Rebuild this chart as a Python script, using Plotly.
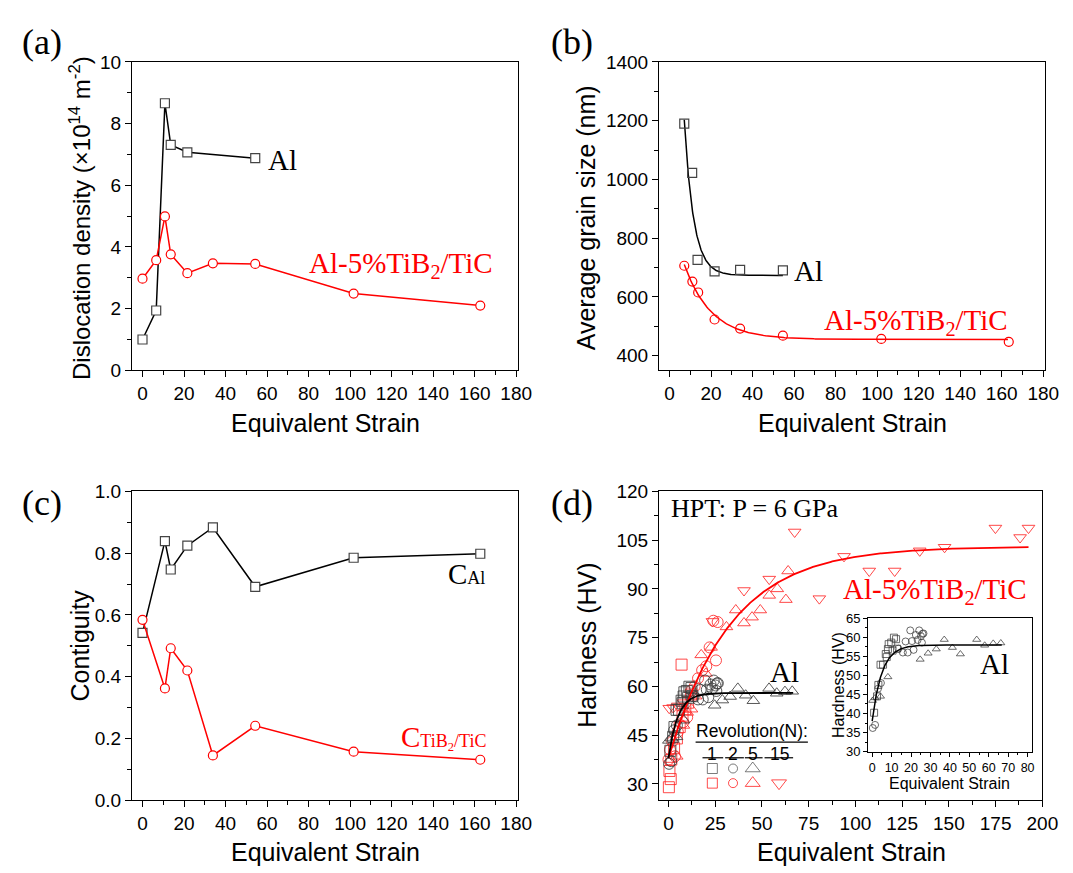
import numpy as np
import plotly.graph_objects as go

W, H = 1073, 873

# ---------------- data ----------------
# (a) dislocation density (x10^14 m^-2)
disl_al_strain = [0, 6.6, 10.8, 13.6, 21.6, 54.3]
disl_al = [1.0, 1.94, 8.66, 7.31, 7.07, 6.88]
disl_comp_strain = [0, 6.6, 10.8, 13.6, 21.6, 33.9, 54.3, 101.7, 162.7]
disl_comp = [2.97, 3.57, 4.99, 3.76, 3.15, 3.47, 3.45, 2.49, 2.10]

# (b) average grain size (nm)
grain_al_strain = [7.1, 10.9, 13.5, 21.7, 34.0, 54.6]
grain_al = [1190, 1022, 726, 687, 692, 690]
grain_comp_strain = [7.1, 11.0, 13.8, 21.7, 34.0, 54.6, 102.0, 163.4]
grain_comp = [706, 652, 615, 523, 492, 468, 457, 447]
# exponential-decay fits: y = base + amp*exp(-(x-x0)/tau)
fit_b_al = dict(base=673, amp=530, x0=7.1, tau=4.48, xmax=54.6)
fit_b_comp = dict(base=455, amp=255, x0=7.1, tau=13.0, xmax=163.0)

# (c) contiguity
contig_strain = [0, 10.8, 13.6, 21.6, 33.9, 54.3, 101.7, 162.7]
contig_al = [0.542, 0.839, 0.747, 0.824, 0.883, 0.691, 0.785, 0.798]
contig_comp = [0.584, 0.362, 0.492, 0.420, 0.145, 0.241, 0.157, 0.131]

# (d) hardness (HV) - Al, by number of revolutions
al_n1_strain = [1.0, 2.5, 3.2, 4.3, 5.6, 7.0, 7.5, 8.1, 8.5, 9.8, 11.2, 12.3, 12.8, 10.5]
al_n1_hv = [40.2, 44.5, 47.5, 52.8, 52.8, 55.6, 54.8, 56.9, 58.2, 58.6, 59.9, 59.5, 57.0, 56.5]
al_n2_strain = [0.3, 1.5, 3.0, 4.5, 13.5, 15.8, 17.2, 18.3, 19.6, 20.5, 21.3, 22.5, 23.4, 24.2, 25.1, 25.9, 26.4, 25.6]
al_n2_hv = [36.2, 37.0, 46.5, 48.0, 57.0, 56.0, 58.9, 56.0, 61.8, 59.0, 56.7, 60.6, 59.3, 61.8, 60.3, 60.9, 61.0, 58.6]
al_n5_strain = [0.2, 1.5, 4.3, 8.1, 24.7, 28.8, 33.0, 37.1, 41.3, 45.4, 53.8, 57.9, 62.3, 66.2]
al_n5_hv = [43.4, 44.1, 44.5, 49.6, 54.2, 55.8, 56.9, 59.4, 57.3, 55.6, 59.4, 57.9, 58.4, 58.5]

# (d) hardness (HV) - Al-5%TiB2/TiC
cm_n1_strain = [0.2, 1.2, 0.5, 1.5, 3.0, 4.5, 6.0, 7.0, 7.5, 9.0, 10.5, 12.0]
cm_n1_hv = [29.0, 31.5, 34.0, 37.5, 41.0, 44.0, 47.5, 66.7, 51.0, 53.0, 55.0, 57.5]
cm_n2_strain = [0.0, 0.8, 2.0, 3.5, 5.0, 7.9, 10.0, 12.3, 14.0, 15.8, 18.0, 20.2, 22.0, 25.4, 26.3, 24.0]
cm_n2_hv = [37.5, 40.5, 43.0, 38.5, 46.0, 49.0, 50.5, 58.8, 60.0, 62.5, 65.0, 66.2, 72.0, 68.0, 79.8, 80.2]
cm_n5_strain = [1.0, 4.4, 8.0, 10.0, 12.3, 14.5, 17.5, 20.0, 22.8, 31.0, 36.0, 40.4, 44.7, 49.1, 53.9, 58.2, 62.8, 64.0]
cm_n5_hv = [37.5, 38.5, 48.0, 52.0, 53.0, 57.0, 69.7, 64.0, 72.0, 78.3, 83.5, 79.5, 81.3, 83.5, 88.0, 90.0, 86.7, 95.5]
cm_n15_strain = [0.4, 2.5, 5.0, 8.0, 23.5, 40.4, 53.9, 67.5, 80.7, 93.9, 107.4, 121.0, 134.4, 147.7, 174.9, 188.1, 192.6]
cm_n15_hv = [53.3, 53.5, 54.0, 55.0, 80.0, 89.5, 93.0, 107.5, 87.0, 100.0, 95.5, 95.5, 101.7, 102.8, 108.7, 105.8, 108.7]
# saturation fits: y = sat - amp*exp(-x/tau)
fit_d_al = dict(sat=58.0, amp=20.0, tau=5.0, xmax=66.7)
fit_d_comp = dict(sat=103.0, amp=65.0, tau=33.0, xmax=192.6)

revolutions = ["1", "2", "5", "15"]

# ---------------- helpers ----------------
BLACK_MK = "#444444"
RED = "#ff0000"
SANS = "Liberation Sans"
SERIF = "Liberation Serif"


def px(x):
    return x / W


def py(y):
    return 1 - y / H


def axis(rng, dtick, minor_dtick, dom, anchor, fs=19, tickformat=None, ticklen=6):
    d = dict(range=rng, dtick=dtick, domain=dom, anchor=anchor,
             showline=True, linecolor="black", linewidth=1.3, mirror=True,
             ticks="outside", ticklen=ticklen, tickwidth=1.2, tickcolor="black",
             showgrid=False, zeroline=False,
             tickfont=dict(family=SANS, size=fs, color="black"),
             minor=dict(dtick=minor_dtick, ticks="outside", ticklen=ticklen * 0.6,
                        tickwidth=1.2, tickcolor="black", showgrid=False))
    if tickformat:
        d["tickformat"] = tickformat
    return d


def decay(p):
    x = np.linspace(p["x0"], p["xmax"], 300)
    return x, p["base"] + p["amp"] * np.exp(-(x - p["x0"]) / p["tau"])


def sat(p):
    x = np.linspace(0, p["xmax"], 300)
    return x, p["sat"] - p["amp"] * np.exp(-x / p["tau"])


fig = go.Figure()

# (a)
fig.add_trace(go.Scatter(x=disl_al_strain, y=disl_al, mode="lines+markers", xaxis="x", yaxis="y",
                         line=dict(color="black", width=1.5),
                         marker=dict(symbol="square", size=9, color="white", line=dict(color=BLACK_MK, width=1.2))))
fig.add_trace(go.Scatter(x=disl_comp_strain, y=disl_comp, mode="lines+markers", xaxis="x", yaxis="y",
                         line=dict(color=RED, width=1.5),
                         marker=dict(symbol="circle", size=9, color="white", line=dict(color=RED, width=1.2))))

# (b)
xb, yb = decay(fit_b_al)
fig.add_trace(go.Scatter(x=xb, y=yb, mode="lines", xaxis="x2", yaxis="y2", line=dict(color="black", width=1.5)))
xb2, yb2 = decay(fit_b_comp)
fig.add_trace(go.Scatter(x=xb2, y=yb2, mode="lines", xaxis="x2", yaxis="y2", line=dict(color=RED, width=1.5)))
fig.add_trace(go.Scatter(x=grain_al_strain, y=grain_al, mode="markers", xaxis="x2", yaxis="y2",
                         marker=dict(symbol="square-open", size=9, color=BLACK_MK, line=dict(width=1.2))))
fig.add_trace(go.Scatter(x=grain_comp_strain, y=grain_comp, mode="markers", xaxis="x2", yaxis="y2",
                         marker=dict(symbol="circle-open", size=9, color=RED, line=dict(width=1.2))))

# (c)
fig.add_trace(go.Scatter(x=contig_strain, y=contig_al, mode="lines+markers", xaxis="x3", yaxis="y3",
                         line=dict(color="black", width=1.5),
                         marker=dict(symbol="square", size=9, color="white", line=dict(color=BLACK_MK, width=1.2))))
fig.add_trace(go.Scatter(x=contig_strain, y=contig_comp, mode="lines+markers", xaxis="x3", yaxis="y3",
                         line=dict(color=RED, width=1.5),
                         marker=dict(symbol="circle", size=9, color="white", line=dict(color=RED, width=1.2))))

# (d) main
al_sets = [(al_n1_strain, al_n1_hv, "square-open"), (al_n2_strain, al_n2_hv, "circle-open"),
           (al_n5_strain, al_n5_hv, "triangle-up-open")]
cm_sets = [(cm_n1_strain, cm_n1_hv, "square-open"), (cm_n2_strain, cm_n2_hv, "circle-open"),
           (cm_n5_strain, cm_n5_hv, "triangle-up-open"), (cm_n15_strain, cm_n15_hv, "triangle-down-open")]
for xs, ys, sym in cm_sets:
    fig.add_trace(go.Scatter(x=xs, y=ys, mode="markers", xaxis="x4", yaxis="y4",
                             marker=dict(symbol=sym, size=11, color="rgba(255,40,40,0.85)", line=dict(width=1))))
for xs, ys, sym in al_sets:
    fig.add_trace(go.Scatter(x=xs, y=ys, mode="markers", xaxis="x4", yaxis="y4",
                             marker=dict(symbol=sym, size=11, color="rgba(60,60,60,0.85)", line=dict(width=1))))
xd, yd = sat(fit_d_comp)
fig.add_trace(go.Scatter(x=xd, y=yd, mode="lines", xaxis="x4", yaxis="y4", line=dict(color=RED, width=1.8)))
xd2, yd2 = sat(fit_d_al)
fig.add_trace(go.Scatter(x=xd2, y=yd2, mode="lines", xaxis="x4", yaxis="y4", line=dict(color="black", width=1.8)))

# (d) inset
for xs, ys, sym in al_sets:
    fig.add_trace(go.Scatter(x=xs, y=ys, mode="markers", xaxis="x5", yaxis="y5",
                             marker=dict(symbol=sym, size=7, color="rgba(60,60,60,0.85)", line=dict(width=0.9))))
fig.add_trace(go.Scatter(x=xd2, y=yd2, mode="lines", xaxis="x5", yaxis="y5", line=dict(color="black", width=1.5)))

# (d) legend keys (overlay pixel axis)
key_x = [715, 736, 756, 782.7]
key_syms = ["square-open", "circle-open", "triangle-up-open", "triangle-down-open"]
key_sizes = [10, 9, 13, 13]
fig.add_trace(go.Scatter(x=key_x[:3], y=[769] * 3, mode="markers", xaxis="x6", yaxis="y6",
                         marker=dict(symbol=key_syms[:3], size=key_sizes[:3], color="#444444", line=dict(width=1))))
fig.add_trace(go.Scatter(x=key_x, y=[784] * 4, mode="markers", xaxis="x6", yaxis="y6",
                         marker=dict(symbol=key_syms, size=key_sizes, color=RED, line=dict(width=1))))

# ---------------- layout ----------------
dom_ax = [px(126), px(518)]
dom_bx = [px(661), px(1053)]
dom_dx = [px(661), px(1050)]
dom_top = [py(361), py(45)]
dom_bot = [py(801.5), py(485)]

layout = dict(
    width=W, height=H, margin=dict(l=0, r=0, t=0, b=0),
    paper_bgcolor="white", plot_bgcolor="rgba(0,0,0,0)", showlegend=False,
    xaxis=axis([-5, 181], 20, 10, dom_ax, "y"),
    yaxis=axis([0, 10], 2, 1, dom_top, "x"),
    xaxis2=axis([-5, 181], 20, 10, dom_bx, "y2"),
    yaxis2=axis([350, 1400], 200, 100, dom_top, "x2"),
    xaxis3=axis([-5, 181], 20, 10, dom_ax, "y3"),
    yaxis3=axis([0, 1.0], 0.2, 0.1, dom_bot, "x3", tickformat=".1f"),
    xaxis4=axis([-5, 200], 25, 12.5, dom_dx, "y4"),
    yaxis4=axis([25, 120], 15, 7.5, dom_bot, "x4"),
    xaxis5=axis([-2, 82], 10, 5, [px(873.3), px(1039)], "y5", fs=12.5, ticklen=4),
    yaxis5=axis([30, 65], 5, 2.5, [py(751.7), py(615)], "x5", fs=13, ticklen=4),
    xaxis6=dict(range=[0, W], domain=[0, 1], anchor="y6", visible=False, fixedrange=True),
    yaxis6=dict(range=[H, 0], domain=[0, 1], anchor="x6", visible=False, fixedrange=True),
)
fig.update_layout(**layout)

ann = []


def text(x, y, s, size, color="black", family=SERIF, angle=0, xanchor="center"):
    ann.append(dict(x=px(x), y=py(y), xref="paper", yref="paper", text=s, showarrow=False,
                    font=dict(family=family, size=size, color=color), textangle=angle,
                    xanchor=xanchor, yanchor="middle"))


# panel letters
text(35, 25, "(a)", 36)
text(573, 25, "(b)", 36)
text(35, 497, "(c)", 36)
text(573, 497, "(d)", 36)

# axis titles
text(322, 415, "Equivalent Strain", 25, family=SANS)
text(857, 415, "Equivalent Strain", 25, family=SANS)
text(322, 855, "Equivalent Strain", 25, family=SANS)
text(856, 855, "Equivalent Strain", 25, family=SANS)
text(73, 205, "Dislocation density (×10<sup>14</sup> m<sup>-2</sup>)", 24, family=SANS, angle=-90)
text(587, 205, "Average grain size (nm)", 25, family=SANS, angle=-90)
text(73, 643, "Contiguity", 25, family=SANS, angle=-90)
text(587, 643, "Hardness (HV)", 25, family=SANS, angle=-90)
text(843, 683, "Hardness (HV)", 16, family=SANS, angle=-90)
text(956, 784, "Equivalent Strain", 16, family=SANS)

# series labels
text(262, 145, "Al", 29, xanchor="left")
text(304, 253, "Al-5%TiB<sub>2</sub>/TiC", 29, color=RED, xanchor="left")
text(796, 259, "Al", 29, xanchor="left")
text(826, 312, "Al-5%TiB<sub>2</sub>/TiC", 29, color=RED, xanchor="left")
text(445, 570, "C<span style='font-size:18px'>Al</span>", 29, xanchor="left")
text(397, 737, "C<span style='font-size:18px'>TiB<sub>2</sub>/TiC</span>", 29, color=RED, xanchor="left")
text(671, 503, "HPT: P = 6 GPa", 26, xanchor="left")
text(846, 587, "Al-5%TiB<sub>2</sub>/TiC", 29, color=RED, xanchor="left")
text(771, 670, "Al", 29, xanchor="left")
text(985, 662, "Al", 29, xanchor="left")

# legend text
text(755, 731, "Revolution(N):", 17.5, family=SANS)
for xk, lab in zip(key_x, revolutions):
    text(xk, 754, lab, 17.5, family=SANS)

fig.update_layout(annotations=ann)

shapes = [dict(type="line", xref="paper", yref="paper", x0=px(698), x1=px(812), y0=py(742), y1=py(742),
               line=dict(color="black", width=1.2))]
for a, b in [(705, 726), (728, 747), (748, 766), (768, 797)]:
    shapes.append(dict(type="line", xref="paper", yref="paper", x0=px(a), x1=px(b), y0=py(758), y1=py(758),
                       line=dict(color="black", width=1.2)))
fig.update_layout(shapes=shapes)

fig.write_html("out.html")
